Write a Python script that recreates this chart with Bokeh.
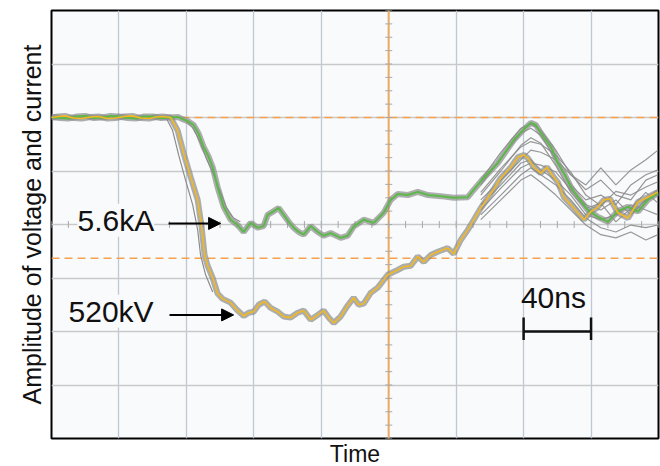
import numpy as np
from bokeh.plotting import figure
from bokeh.models import Span, Label, Arrow, NormalHead, SingleIntervalTicker, Title
from bokeh.embed import file_html
from bokeh.resources import INLINE

# ---- data (time in ns, amplitude in screen divisions) ----
current_t = [0, 5, 10, 15, 20, 25, 30, 35, 40, 45, 50, 55, 60, 65, 70, 75, 77.7, 81.0, 84.3, 87.2,
             90.2, 93.0, 95.6, 98.5, 102.1, 106.2,
             110.4, 114.0, 118.1, 122.3, 125.8, 128.2, 131.8, 134.7, 137.7, 140.7, 143.6,
             146.6, 149.6, 153.7, 157.9, 161.4, 165.6, 171.5, 175.7, 179.2, 185.2, 191.1,
             197.0, 201.2, 205.3, 211.3, 217.2, 223.2, 230.9, 238.6, 246.9, 250.5, 256.4,
             264.7, 274.2, 279.5, 284.3, 287.3, 290.2, 296.2, 300.3, 303.9, 308.0, 312.2,
             318.1, 324.1, 330.0, 335.9, 341.9, 347.8, 353.7, 359.7]
current_v = [6.01, 5.99, 5.98, 6.02, 6.03, 5.99, 6.00, 6.03, 6.02, 5.99, 5.98, 6.02, 6.02, 5.99, 6.00,
             6.01, 5.97, 5.93, 5.86, 5.70, 5.45, 5.28, 5.07, 4.70,
             4.33, 4.09, 3.99, 3.86, 4.03, 3.94, 3.97, 4.18, 4.25, 4.31, 4.18, 4.05, 3.94,
             3.86, 3.81, 3.97, 3.86, 3.79, 3.84, 3.75, 3.79, 3.96, 4.09, 4.03, 4.22, 4.46,
             4.57, 4.55, 4.61, 4.55, 4.53, 4.50, 4.51, 4.65, 4.87, 5.15, 5.58, 5.76, 5.90,
             5.86, 5.71, 5.45, 5.15, 4.96, 4.70, 4.51, 4.27, 4.14, 4.05, 4.25, 4.33, 4.24,
             4.46, 4.59]

voltage_t = [0, 4, 8, 13, 18, 23, 28, 33, 38, 43, 48, 53, 58, 62, 66, 70.6, 74.8, 78.3, 82.5,
             86.7, 89.0, 90.8, 92.6,
             95.6, 98.5, 101.5, 106.2, 109.8, 114.0, 116.9, 119.9, 122.9, 126.4, 130.0,
             134.1, 137.7, 141.8, 146.0, 149.6, 153.7, 157.9, 161.4, 164.4, 167.4, 171.5,
             175.1, 179.2, 182.2, 185.2, 189.3, 193.5, 199.4, 205.3, 208.9, 213.1, 217.2,
             220.8, 224.9, 229.1, 235.0, 238.6, 242.7, 246.9, 250.5, 254.6, 258.8, 262.3,
             266.5, 272.4, 276.6, 280.1, 282.5, 286.1, 290.2, 293.8, 297.3, 300.3, 303.9,
             309.8, 315.7, 319.9, 323.5, 327.6, 331.2, 335.9, 341.9, 347.8, 353.7, 359.7]
voltage_v = [6.00, 6.02, 6.03, 5.99, 5.98, 6.01, 6.02, 5.98, 5.99, 6.02, 6.03, 5.99, 5.98, 6.01,
             6.02, 6.00, 5.76, 5.34, 4.89, 4.46, 3.96,
             3.43, 3.23, 3.00, 2.71, 2.61, 2.54, 2.41, 2.29, 2.35, 2.37, 2.50, 2.56, 2.44,
             2.37, 2.28, 2.26, 2.35, 2.39, 2.22, 2.31, 2.39, 2.26, 2.16, 2.28, 2.46, 2.63,
             2.50, 2.52, 2.72, 2.82, 3.06, 3.15, 3.21, 3.23, 3.40, 3.30, 3.43, 3.49, 3.56,
             3.45, 3.71, 3.90, 4.09, 4.31, 4.50, 4.66, 4.87, 5.07, 5.26, 5.30, 5.24, 5.07,
             4.96, 5.07, 4.91, 4.79, 4.51, 4.31, 4.09, 4.24, 4.31, 4.46, 4.48, 4.22, 4.12,
             4.42, 4.51, 4.61]

# other recorded shots (grey)
gray_drop_t = [67.7, 71.8, 75.4, 79.5, 83.7, 86.7, 88.4, 91.4, 95.6]
gray_drop_v = [6.01, 5.76, 5.30, 4.83, 4.37, 3.90, 3.43, 3.06, 2.74]
gray_cur_t = [76.0, 80.0, 84.0, 88.0, 92.0, 96.0, 100.0, 104.0, 108.0, 112.0]
gray_cur_v = [6.01, 5.93, 5.80, 5.55, 5.22, 4.95, 4.62, 4.30, 4.12, 4.05]

gray_t = [254.6, 266.5, 278.4, 284.3, 290.2, 299.1, 308.0, 316.9, 325.8, 334.7, 343.6, 352.5, 359.7]
gray_1 = [4.83, 5.35, 5.80, 5.88, 5.76, 5.39, 4.93, 4.74, 5.06, 4.74, 5.02, 5.21, 5.39]
gray_2 = [4.74, 5.24, 5.71, 5.80, 5.67, 5.21, 4.74, 4.46, 4.55, 4.37, 4.74, 4.93, 5.02]
gray_3 = [4.46, 4.83, 5.21, 5.39, 5.35, 5.21, 4.93, 4.65, 4.83, 4.55, 4.46, 4.83, 4.93]
gray_4 = [4.27, 4.68, 5.06, 5.15, 5.11, 4.98, 4.65, 4.37, 4.27, 4.46, 4.18, 4.46, 4.65]
gray_5 = [4.18, 4.55, 4.93, 5.06, 4.93, 4.74, 4.46, 4.12, 3.94, 3.86, 3.99, 3.94, 3.99]
gray_6 = [4.37, 4.74, 5.15, 5.21, 5.02, 4.83, 4.55, 4.18, 4.09, 4.18, 4.37, 4.27, 4.18]
gray_7 = [4.09, 4.46, 4.83, 4.93, 4.79, 4.55, 4.27, 3.99, 3.81, 3.75, 3.86, 3.71, 3.81]
gray_8 = [4.60, 5.05, 5.45, 5.55, 5.50, 5.30, 4.98, 4.55, 4.35, 4.62, 4.55, 4.70, 4.80]
gray_9 = [4.55, 5.00, 5.48, 5.62, 5.52, 5.10, 4.60, 4.30, 4.40, 4.05, 4.30, 4.60, 4.40]

cursor_levels = [6.0, 3.37]
center_time = 200
labels = ["5.6kA", "520kV"]
scale_text = "40ns"

FONT = "Liberation Sans"
BG = "#f9fafc"

p = figure(width=660, height=466, x_range=(0, 360), y_range=(0, 8),
           output_backend="svg", toolbar_location=None,
           min_border_left=51, min_border_right=2, min_border_top=10, min_border_bottom=27)
p.background_fill_color = BG
p.border_fill_color = "white"
p.outline_line_color = "black"
p.outline_line_width = 2
p.xaxis.visible = False
p.yaxis.visible = False

p.xgrid.ticker = SingleIntervalTicker(interval=40)
p.ygrid.ticker = SingleIntervalTicker(interval=1)
p.xgrid.grid_line_color = "#bcc9d3"
p.xgrid.grid_line_width = 1.3
p.ygrid.grid_line_color = "#c9c9c9"
p.ygrid.grid_line_width = 1.3

p.add_layout(Title(text="Time", align="center", text_font=FONT, text_font_size="23px",
                   text_font_style="normal", text_color="#111111", standoff=0, offset=0), "below")
p.add_layout(Title(text="Amplitude of voltage and current", align="center", text_font=FONT,
                   text_font_size="25px", text_font_style="normal", text_color="#111111",
                   standoff=12), "left")

# center graticule minor ticks
ys = np.arange(0, 8.01, 0.25)
p.scatter(x=[center_time] * len(ys), y=ys, marker="dash", size=7, line_color="#a8a8a8", line_width=1)
xs = np.arange(0, 360.1, 10)
p.scatter(x=xs, y=[4] * len(xs), marker="dash", angle=np.pi / 2, size=7, line_color="#a8a8a8", line_width=1)

p.add_layout(Span(location=center_time, dimension="height", line_color="#f6a24c",
                  line_width=2, line_alpha=0.85, level="underlay"))
for lv in cursor_levels:
    p.add_layout(Span(location=lv, dimension="width", line_color="#f6a24c",
                      line_width=1.5, line_dash="8 5", level="underlay"))

# grey traces
GRAY = "#8c8c8c"
for g in (gray_1, gray_2, gray_3, gray_4, gray_5, gray_6, gray_7, gray_8, gray_9):
    p.line(gray_t, g, line_color=GRAY, line_width=1.2, line_alpha=0.9)
p.line(gray_drop_t, gray_drop_v, line_color=GRAY, line_width=1.2)
p.line(gray_cur_t, gray_cur_v, line_color=GRAY, line_width=1.2)
p.line(current_t, current_v, line_color=GRAY, line_width=6, line_alpha=0.7)
p.line(voltage_t, voltage_v, line_color=GRAY, line_width=6, line_alpha=0.7)

# highlighted traces
p.line(current_t, current_v, line_color="#5cb848", line_width=2)
p.line(voltage_t, voltage_v, line_color="#f2b824", line_width=1.6)

# annotations
p.add_layout(Label(x=15.4, y=4.08, text=labels[0], text_font=FONT, text_font_size="30px",
                   text_baseline="middle", text_color="#111111", background_fill_color=BG))
p.add_layout(Label(x=10.1, y=2.38, text=labels[1], text_font=FONT, text_font_size="30px",
                   text_baseline="middle", text_color="#111111", background_fill_color=BG))
p.add_layout(Arrow(end=NormalHead(size=12, fill_color="black", line_color="black"),
                   x_start=69.4, y_start=4.02, x_end=100.3, y_end=4.02, line_width=2))
p.add_layout(Arrow(end=NormalHead(size=12, fill_color="black", line_color="black"),
                   x_start=70.0, y_start=2.31, x_end=108.0, y_end=2.31, line_width=2))

p.add_layout(Label(x=278.4, y=2.64, text=scale_text, text_font=FONT, text_font_size="30px",
                   text_baseline="middle", text_color="#111111"))
p.segment(x0=[280, 280, 320], y0=[2.0, 1.84, 1.84], x1=[320, 280, 320], y1=[2.0, 2.26, 2.26],
          line_color="#111111", line_width=2.5)

open("out.html", "w").write(file_html(p, INLINE))
